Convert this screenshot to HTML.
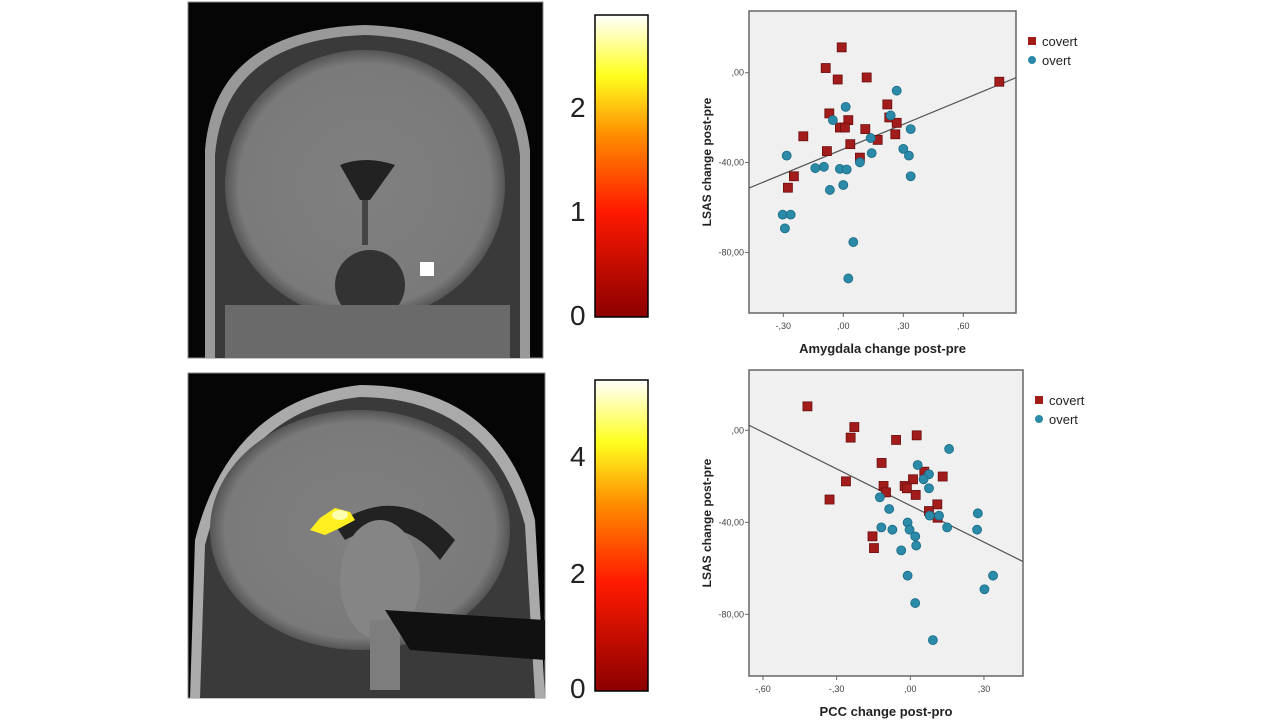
<!DOCTYPE html>
<html><head><meta charset="utf-8"><style>
body{margin:0;background:#fff;width:1280px;height:720px;overflow:hidden;font-family:"Liberation Sans",sans-serif}
svg{position:absolute;left:0;top:0}
</style></head><body>
<svg width="1280" height="720">
<defs>
<linearGradient id="hot" x1="0" y1="1" x2="0" y2="0">
<stop offset="0" stop-color="#8b0000"/><stop offset="0.35" stop-color="#ff1a00"/><stop offset="0.6" stop-color="#ff8c00"/><stop offset="0.8" stop-color="#ffff20"/><stop offset="1" stop-color="#ffffff"/>
</linearGradient>
<radialGradient id="brainG" cx="0.5" cy="0.5" r="0.5"><stop offset="0" stop-color="#808080"/><stop offset="0.9" stop-color="#7a7a7a"/><stop offset="1" stop-color="#555"/></radialGradient>
</defs>
<!-- coronal brain -->
<g>
<rect x="188" y="2" width="355" height="356" fill="#050505" stroke="#888"/>
<path d="M205,358 L205,150 Q215,30 365,25 Q515,30 530,150 L530,358 Z" fill="#999"/>
<path d="M215,358 L215,155 Q225,40 365,35 Q505,40 520,155 L520,358 Z" fill="#3a3a3a"/>
<ellipse cx="365" cy="185" rx="140" ry="135" fill="url(#brainG)"/>
<path d="M340,165 Q365,155 395,165 L370,200 L360,200 Z" fill="#222"/>
<rect x="362" y="200" width="6" height="45" fill="#444"/>
<ellipse cx="370" cy="285" rx="35" ry="35" fill="#333"/>
<rect x="225" y="305" width="285" height="53" fill="#6a6a6a"/>
<rect x="420" y="262" width="14" height="14" fill="#fff"/>
</g>
<!-- sagittal brain -->
<g>
<rect x="188" y="373" width="357" height="325" fill="#050505" stroke="#888"/>
<path d="M190,698 L195,540 Q230,400 360,385 Q500,385 535,520 L545,698 Z" fill="#aaa"/>
<path d="M200,698 L205,545 Q240,410 360,397 Q490,398 525,525 L535,698 Z" fill="#3a3a3a"/>
<ellipse cx="360" cy="530" rx="150" ry="120" fill="url(#brainG)"/>
<path d="M335,525 Q400,480 455,540 L440,560 Q400,510 345,540 Z" fill="#222"/>
<ellipse cx="380" cy="580" rx="40" ry="60" fill="#858585"/>
<rect x="370" y="620" width="30" height="70" fill="#7d7d7d"/>
<path d="M385,610 L545,620 L545,660 L410,650 Z" fill="#111"/>
<path d="M310,530 L320,518 L335,508 L350,512 L355,520 L340,528 L325,535 Z" fill="#ffef20"/>
<ellipse cx="340" cy="515" rx="8" ry="5" fill="#ffffb0"/>
</g>
<!-- colorbars -->
<g>
<rect x="595" y="15" width="53" height="302" fill="url(#hot)" stroke="#000" stroke-width="1.5"/>
<text x="570" y="117" font-size="28" fill="#222">2</text>
<text x="570" y="221" font-size="28" fill="#222">1</text>
<text x="570" y="325" font-size="28" fill="#222">0</text>
</g>
<g>
<rect x="595" y="380" width="53" height="311" fill="url(#hot)" stroke="#000" stroke-width="1.5"/>
<text x="570" y="466" font-size="28" fill="#222">4</text>
<text x="570" y="583" font-size="28" fill="#222">2</text>
<text x="570" y="698" font-size="28" fill="#222">0</text>
</g>
<g id="p1"></g>
<g id="p2"></g>
</svg>
<script>
// Plot 1: Amygdala
const covert1X=[-0.008,-0.088,-0.028,0.117,0.78,0.22,-0.07,0.025,-0.017,0.008,0.23,0.267,0.26,0.11,-0.2,0.172,0.035,-0.082,0.083,-0.247,-0.277];
const covert1Y=[11.3,2.1,-3.0,-2.1,-4.0,-14.1,-18.1,-21.1,-24.4,-24.4,-19.9,-22.3,-27.4,-25.1,-28.3,-29.9,-31.8,-34.9,-37.8,-46.1,-51.2];
const overt1X=[0.267,0.012,0.237,-0.052,0.337,0.137,0.3,0.142,0.328,-0.283,0.083,-0.14,-0.097,-0.017,0.017,0.337,0.0,-0.067,-0.303,-0.263,-0.292,0.05,0.025];
const overt1Y=[-8.0,-15.2,-19.0,-21.1,-25.1,-29.1,-33.9,-35.8,-36.9,-36.9,-39.9,-42.5,-41.9,-42.8,-43.1,-46.1,-50.0,-52.2,-63.2,-63.2,-69.3,-75.4,-91.6];
const fit1=[-34.0,36.8]; // intercept, slope
const xTicks1=[-0.3,0,0.3,0.6], xLabels1=["-,30",",00",",30",",60"];
// Plot 2: PCC
const covert2X=[-0.419,-0.228,-0.243,-0.058,0.026,-0.117,0.057,-0.262,0.011,0.132,-0.109,-0.023,-0.014,-0.099,0.022,-0.329,0.11,0.076,0.111,-0.154,-0.148];
const covert2Y=[10.4,1.4,-3.2,-4.2,-2.2,-14.2,-18.0,-22.2,-21.3,-20.1,-24.2,-24.2,-25.2,-27.0,-28.1,-30.1,-32.2,-35.1,-38.0,-46.1,-51.2];
const overt2X=[0.158,0.03,0.076,0.054,0.076,-0.124,-0.086,0.079,0.117,0.275,-0.011,-0.118,-0.073,-0.003,0.15,0.272,0.02,0.024,-0.037,-0.011,0.337,0.302,0.02,0.092];
const overt2Y=[-8.1,-15.1,-19.1,-21.3,-25.2,-29.1,-34.2,-37.1,-37.1,-36.1,-40.1,-42.2,-43.2,-43.2,-42.2,-43.2,-46.1,-50.1,-52.2,-63.2,-63.2,-69.1,-75.1,-91.2];
const fit2=[-32.7,-53.1];
const xTicks2=[-0.6,-0.3,0,0.3], xLabels2=["-,60","-,30",",00",",30"];
const yTicks=[0,-40,-80], yLabels=[",00","-40,00","-80,00"];

const NS="http://www.w3.org/2000/svg";
function mk(parent,tag,attrs){const e=document.createElementNS(NS,tag);for(const k in attrs)e.setAttribute(k,attrs[k]);parent.appendChild(e);return e;}
function plot(g,box,xd,yd,cX,cY,oX,oY,fit,xt,xl,xTitle){
  const sx=v=>box.x+(v-xd[0])/(xd[1]-xd[0])*box.w;
  const sy=v=>box.y+(yd[1]-v)/(yd[1]-yd[0])*box.h;
  const r=mk(g,'rect',{x:box.x,y:box.y,width:box.w,height:box.h,fill:'#f0f0f0',stroke:'#666','stroke-width':1.5});
  
  
  xt.forEach((t,i)=>{
    const tk=mk(g,'line',{x1:sx(t),x2:sx(t),y1:box.y+box.h,y2:box.y+box.h+4,stroke:'#666'});
    
    
    const tx=mk(g,'text',{x:sx(t),y:box.y+box.h+16,'font-size':9,fill:'#444','text-anchor':'middle'});tx.textContent=xl[i];
    
    
  });
  yTicks.forEach((t,i)=>{
    const tk=mk(g,'line',{x1:box.x-4,x2:box.x,y1:sy(t),y2:sy(t),stroke:'#666'});
    
    
    const tx=mk(g,'text',{x:box.x-5,y:sy(t)+3,'font-size':9,fill:'#444','text-anchor':'end'});tx.textContent=yLabels[i];
    
    
  });
  const ln=mk(g,'line',{x1:sx(xd[0]),y1:sy(fit[0]+fit[1]*xd[0]),x2:sx(xd[1]),y2:sy(fit[0]+fit[1]*xd[1]),stroke:'#555','stroke-width':1.2});
  
  
  cX.forEach((v,i)=>{
    const s=mk(g,'rect',{x:sx(v)-4.5,y:sy(cY[i])-4.5,width:9,height:9,fill:'#a31c1c',stroke:'#6a0e0e','stroke-width':0.8});
    
    
  });
  oX.forEach((v,i)=>{
    const c=mk(g,'circle',{cx:sx(v),cy:sy(oY[i]),r:4.5,fill:'#2a8aa8',stroke:'#1a6a85','stroke-width':0.8});
    
    
  });
  const yt=mk(g,'text',{x:0,y:0,'font-size':12,'font-weight':'bold',fill:'#222','text-anchor':'middle',transform:`translate(${box.x-38},${box.y+box.h/2}) rotate(-90)`});
  yt.textContent='LSAS change post-pre';
  
  
  const xtt=mk(g,'text',{x:box.x+box.w/2,y:box.y+box.h+40,'font-size':13,'font-weight':'bold',fill:'#222','text-anchor':'middle'});
  xtt.textContent=xTitle;
  
  
  const lx=box.x+box.w+12, ly=box.y+30;
  const l1=mk(g,'rect',{x:lx,y:ly-4,width:8,height:8,fill:'#a31c1c'});
  
  
  const t1=mk(g,'text',{x:lx+14,y:ly+5,'font-size':13,fill:'#222'});t1.textContent='covert';
  
  
  const l2=mk(g,'circle',{cx:lx+4,cy:ly+19,r:4,fill:'#2a8aa8'});
  
  
  const t2=mk(g,'text',{x:lx+14,y:ly+24,'font-size':13,fill:'#222'});t2.textContent='overt';
  
  
}
plot(document.getElementById('p1'),{x:749,y:11,w:267,h:302},[-0.4715,0.8635],[-107,27.5],covert1X,covert1Y,overt1X,overt1Y,fit1,xTicks1,xLabels1,'Amygdala change post-pre');
plot(document.getElementById('p2'),{x:749,y:370,w:274,h:306},[-0.657,0.459],[-106.8,26.2],covert2X,covert2Y,overt2X,overt2Y,fit2,xTicks2,xLabels2,'PCC change post-pro');
</script>
</body></html>
